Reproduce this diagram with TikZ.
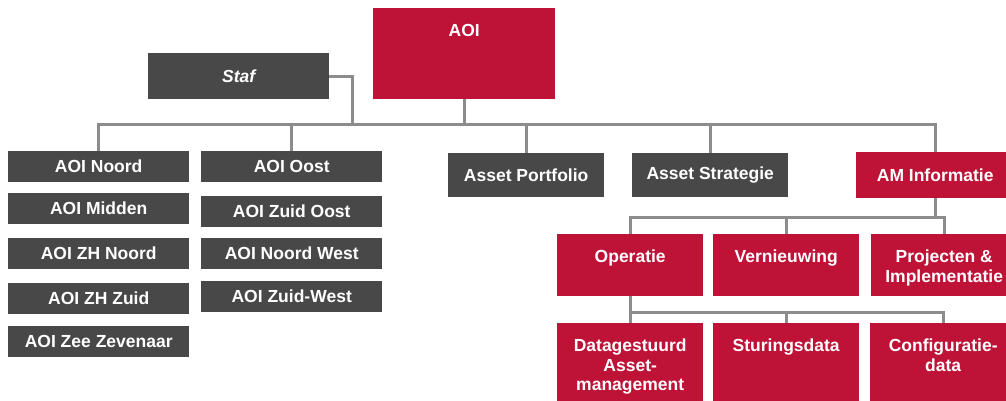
\documentclass[tikz,border=0pt]{standalone}
\usepackage{fontspec}
\setmainfont{Liberation Sans}
\definecolor{aoirood}{RGB}{190,18,55}
\definecolor{aoigrijs}{RGB}{72,72,72}
\definecolor{lijngrijs}{RGB}{140,140,140}
\begin{document}
\begin{tikzpicture}[x=1pt,y=-1pt,
	box/.style={rectangle,inner sep=0pt,text=white,align=center,anchor=north west,
		font=\bfseries\fontsize{17.5}{19.5}\selectfont},
	grijs/.style={box,fill=aoigrijs},
	rood/.style={box,fill=aoirood},
	kop/.style={label={[box,anchor=north,yshift=-16pt]north:#1}},
	lijn/.style={draw=lijngrijs,line width=3pt}]
	\useasboundingbox (0,0) rectangle (1006,401);
	\clip (0,0) rectangle (1006,401);
	\node[rood,minimum width=182,minimum height=91,kop=AOI] (aoi) at (373,8) {};
	\node[grijs,minimum width=181,minimum height=46] (staf) at (148,53) {\itshape Staf};
	\node[grijs,minimum width=181,minimum height=31] (noord) at (8,151) {AOI Noord};
	\node[grijs,minimum width=181,minimum height=31] (midden) at (8,193) {AOI Midden};
	\node[grijs,minimum width=181,minimum height=31] (zhnoord) at (8,238) {AOI ZH Noord};
	\node[grijs,minimum width=181,minimum height=31] (zhzuid) at (8,283) {AOI ZH Zuid};
	\node[grijs,minimum width=181,minimum height=31] (zee) at (8,326) {AOI Zee Zevenaar};
	\node[grijs,minimum width=181,minimum height=31] (oost) at (201,151) {AOI Oost};
	\node[grijs,minimum width=181,minimum height=31] (zuidoost) at (201,196) {AOI Zuid Oost};
	\node[grijs,minimum width=181,minimum height=31] (noordwest) at (201,238) {AOI Noord West};
	\node[grijs,minimum width=181,minimum height=31] (zuidwest) at (201,281) {AOI Zuid-West};
	\node[grijs,minimum width=156,minimum height=44] (portfolio) at (448,153) {Asset Portfolio};
	\node[grijs,minimum width=156,minimum height=44] (strategie) at (632,153) {Asset Strategie};
	\node[rood,minimum width=158,minimum height=46] (am) at (856,152) {AM Informatie};
	\node[rood,minimum width=146,minimum height=62,kop=Operatie] (op) at (557,234) {};
	\node[rood,minimum width=146,minimum height=62,kop=Vernieuwing] (vern) at (713,234) {};
	\node[rood,minimum width=146,minimum height=62,kop={Projecten \&\\Implementatie}] (proj) at (871,234) {};
	\node[rood,minimum width=146,minimum height=80,kop={Datagestuurd\\Asset-\\management}] (data) at (557,323) {};
	\node[rood,minimum width=146,minimum height=80,kop=Sturingsdata] (stur) at (713,323) {};
	\node[rood,minimum width=146,minimum height=80,kop={Configuratie-\\data}] (conf) at (870,323) {};
	\coordinate (bus) at (0,125);
	\coordinate (stafknik) at (352,125);
	\coordinate (bus2) at (0,217);
	\coordinate (bus3) at (0,312);
	\draw[lijn] (noord.north)--(noord.north|-bus)--(am.north|-bus)--(am.north);
	\draw[lijn] (oost.north)--(oost.north|-bus);
	\draw[lijn] (portfolio.north)--(portfolio.north|-bus);
	\draw[lijn] (strategie.north)--(strategie.north|-bus);
	\draw[lijn] (aoi.south)--(aoi.south|-bus);
	\draw[lijn] (staf.east)-|(stafknik);
	\draw[lijn] (am.south)--(am.south|-bus2);
	\draw[lijn] (op.north)--(op.north|-bus2)--(proj.north|-bus2)--(proj.north);
	\draw[lijn] (vern.north)--(vern.north|-bus2);
	\draw[lijn] (op.south)--(op.south|-bus3);
	\draw[lijn] (data.north)--(data.north|-bus3)--(conf.north|-bus3)--(conf.north);
	\draw[lijn] (stur.north)--(stur.north|-bus3);
\end{tikzpicture}
\end{document}
